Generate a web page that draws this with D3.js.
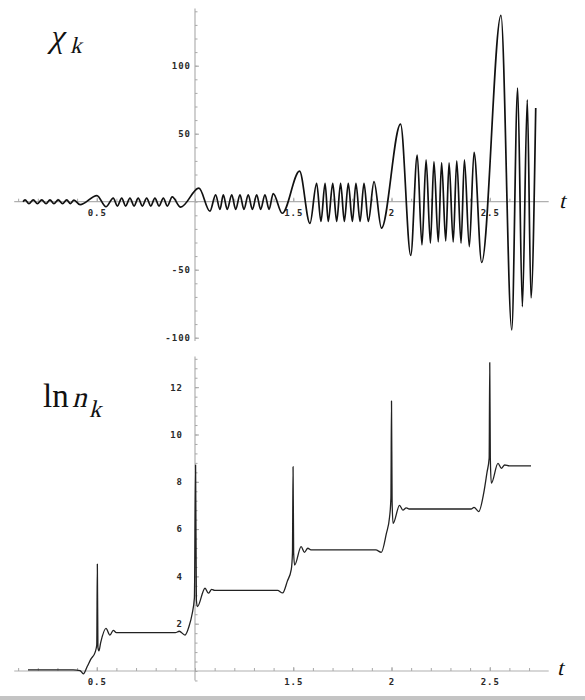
<!DOCTYPE html>
<html>
<head>
<meta charset="utf-8">
<script src="https://cdn.jsdelivr.net/npm/d3@7"></script>
<style>
  body { margin: 0; background: #fff; }
  .tick text { font-family: "DejaVu Sans Mono", monospace; font-size: 9px; font-weight: bold; letter-spacing: 1px; fill: #2a2a2a; }
  .tick line { stroke: #a8a8a8; }
  .axis-line { stroke: #b0b0b0; stroke-width: 1.2; }
  .ttl { font-family: "Liberation Serif", "DejaVu Serif", serif; fill: #111; }
</style>
</head>
<body>
<svg id="chart" width="585" height="700"></svg>
<script>
/**
 * DATA
 * */
// chi_k : turning points of the oscillation
const tChi = [0.125, 0.135, 0.155, 0.177, 0.198, 0.220, 0.242, 0.262, 0.282, 0.304, 0.326, 0.347, 0.366, 0.384,
  0.415, 0.501, 0.547,
  0.584, 0.605, 0.627, 0.647, 0.669, 0.690, 0.711, 0.732, 0.754, 0.775, 0.796, 0.817, 0.839, 0.859, 0.884,
  0.927, 1.020, 1.076,
  1.105, 1.127, 1.144, 1.164, 1.187, 1.207, 1.229, 1.249, 1.271, 1.292, 1.314, 1.334, 1.356, 1.377, 1.398,
  1.444, 1.532, 1.585,
  1.619, 1.641, 1.662, 1.678, 1.701, 1.721, 1.741, 1.760, 1.780, 1.801, 1.819, 1.840, 1.860, 1.882, 1.911,
  1.949, 2.046, 2.098,
  2.131, 2.155, 2.176, 2.198, 2.216, 2.238, 2.255, 2.276, 2.293, 2.314, 2.332, 2.354, 2.371, 2.396, 2.420,
  2.459, 2.557, 2.612, 2.642, 2.666, 2.691, 2.710, 2.734];
const chiVals = [0, 1.4, -1.4, 1.4, -1.4, 1.4, -1.4, 1.4, -1.4, 1.4, -1.4, 1.4, -1.4, 1.2,
  -2.2, 4.5, -3.7,
  2.7, -3.2, 2.7, -3.2, 2.7, -3.2, 2.7, -3.2, 2.7, -3.2, 2.7, -3.2, 2.7, -3.2, 3.5,
  -4, 10, -7,
  5, -5.6, 5, -5.6, 5, -5.6, 5, -5.6, 5, -5.6, 5, -5.6, 5, -5.6, 6,
  -8.5, 22.5, -16,
  13.5, -14.5, 13.5, -14.5, 13.5, -14.5, 13.5, -14.5, 13.5, -14.5, 13.5, -14.5, 13.5, -14.5, 14.7,
  -19.5, 57, -39.5,
  34.3, -31.8, 30.7, -30.4, 29.4, -29.6, 28.7, -28.9, 28.5, -29.6, 30, -30.4, 30.7, -33, 36.2,
  -44.7, 137, -94.3, 83.6, -77.2, 74.8, -70.8, 68.9];

// ln n_k : steps with spikes
const tLn = [0.150, 0.380, 0.415, 0.432, 0.452, 0.470, 0.492, 0.500, 0.503, 0.506, 0.511, 0.520, 0.547, 0.567, 0.584, 0.600,
  0.900, 0.920, 0.949, 0.970, 0.985, 0.997, 1.003, 1.007, 1.012, 1.051, 1.068, 1.085, 1.100,
  1.420, 1.446, 1.470, 1.490, 1.496, 1.499, 1.502, 1.507, 1.540, 1.557, 1.574, 1.590,
  1.920, 1.948, 1.974, 1.990, 1.997, 2.000, 2.003, 2.008, 2.041, 2.058, 2.075, 2.090,
  2.405, 2.420, 2.444, 2.469, 2.486, 2.497, 2.500, 2.503, 2.508, 2.542, 2.559, 2.576, 2.600, 2.710];
const lnVals = [0.05, 0.05, 0.02, -0.12, 0.2, 0.5, 0.8, 1.1, 4.52, 1.0, 0.85, 1.2, 1.8, 1.52, 1.72, 1.62,
  1.62, 1.68, 1.52, 1.9, 2.4, 3.1, 8.71, 3.0, 2.72, 3.5, 3.29, 3.45, 3.41,
  3.41, 3.3, 3.8, 4.3, 5.0, 8.64, 5.0, 4.48, 5.26, 5.02, 5.19, 5.12,
  5.12, 5.02, 5.82, 6.5, 7.3, 11.42, 7.2, 6.24, 7.0, 6.8, 6.9, 6.85,
  6.85, 6.92, 6.74, 7.51, 8.4, 9.0, 13.04, 9.0, 7.94, 8.78, 8.57, 8.71, 8.67, 8.67];

// ticks
const xTicks = [0.5, 1.5, 2, 2.5];
const xTickLabels = ["0.5", "1.5", "2", "2.5"];
const chiTicks = [100, 50, -50, -100];
const chiTickLabels = ["100", "50", "-50", "-100"];
const lnTicks = [2, 4, 6, 8, 10, 12];
const lnTickLabels = ["2", "4", "6", "8", "10", "12"];

/**
 * SCALES
 * */
const svg = d3.select("#chart");
const x = d3.scaleLinear().domain([1, 2.5]).range([195, 489.75]);
const yChi = d3.scaleLinear().domain([0, 100]).range([201.7, 65.7]);
const yLn = d3.scaleLinear().domain([0, 12]).range([671, 387.2]);

// bottom frame line of the original figure
svg.append("rect").attr("x", 0).attr("y", 696).attr("width", 585).attr("height", 4).attr("fill", "#c4c4c4");

function drawAxes(y, yTop, yBot, yTicks, yLabels, yMinorStep, yPad) {
  const y0 = y(0);
  // axis lines
  svg.append("line").attr("class", "axis-line")
    .attr("x1", x(0.08)).attr("x2", x(2.8)).attr("y1", y0).attr("y2", y0);
  svg.append("line").attr("class", "axis-line")
    .attr("x1", x(1)).attr("x2", x(1)).attr("y1", y(yTop)).attr("y2", y(yBot));

  // minor x ticks
  svg.append("g").attr("transform", `translate(0,${y0})`)
    .call(d3.axisBottom(x).tickValues(d3.range(0.1, 2.75, 0.1)).tickSize(-3).tickFormat(""))
    .call(g => g.select(".domain").remove());
  // labelled x ticks
  svg.append("g").attr("transform", `translate(0,${y0})`)
    .call(d3.axisBottom(x).tickValues(xTicks).tickSizeInner(-4).tickPadding(8)
      .tickFormat((d, i) => xTickLabels[i]))
    .call(g => g.select(".domain").remove())
    .call(g => g.selectAll("text").attr("font-family", null).attr("font-size", null));

  // minor y ticks
  const minor = d3.range(Math.ceil(yBot / yMinorStep) * yMinorStep, yTop, yMinorStep);
  svg.append("g").attr("transform", `translate(${x(1)},0)`)
    .call(d3.axisLeft(y).tickValues(minor).tickSize(-2.5).tickFormat(""))
    .call(g => g.select(".domain").remove());
  // labelled y ticks
  svg.append("g").attr("transform", `translate(${x(1)},0)`)
    .call(d3.axisLeft(y).tickValues(yTicks).tickSizeInner(-4).tickPadding(yPad)
      .tickFormat((d, i) => yLabels[i]))
    .call(g => g.select(".domain").remove())
    .call(g => g.selectAll("text").attr("font-family", null).attr("font-size", null));
}

drawAxes(yChi, 142, -102.5, chiTicks, chiTickLabels, 10, 4);
drawAxes(yLn, 13.3, -0.4, lnTicks, lnTickLabels, 0.4, 12);

/**
 * CURVES
 * */
const chiData = tChi.map((t, i) => ({ t: t, v: chiVals[i] }));
const lnData = tLn.map((t, i) => ({ t: t, v: lnVals[i] }));

svg.append("path")
  .datum(chiData)
  .attr("fill", "none")
  .attr("stroke", "#111")
  .attr("stroke-width", 1.7)
  .attr("stroke-linejoin", "round")
  .attr("d", d3.line().x(d => x(d.t)).y(d => yChi(d.v)).curve(d3.curveMonotoneX));

svg.append("path")
  .datum(lnData)
  .attr("fill", "none")
  .attr("stroke", "#222")
  .attr("stroke-width", 1.3)
  .attr("stroke-linejoin", "round")
  .attr("d", d3.line().x(d => x(d.t)).y(d => yLn(d.v)).curve(d3.curveMonotoneX));

/**
 * TITLES
 * serif italic is faked with a skew so the glyphs stay Times-like
 * */
function slanted(str, px, py, size) {
  svg.append("text").attr("class", "ttl")
    .attr("transform", `translate(${px},${py}) skewX(-14)`)
    .attr("font-size", size)
    .text(str);
}

slanted("χ", 49, 47, 33);
slanted("k", 70, 53, 23);

svg.append("text").attr("class", "ttl")
  .attr("x", 43).attr("y", 407).attr("font-size", 33).text("ln");
slanted("n", 72, 407, 29);
slanted("k", 89, 417, 24);

slanted("t", 559, 208, 22);
slanted("t", 557, 675, 22);
</script>
</body>
</html>
